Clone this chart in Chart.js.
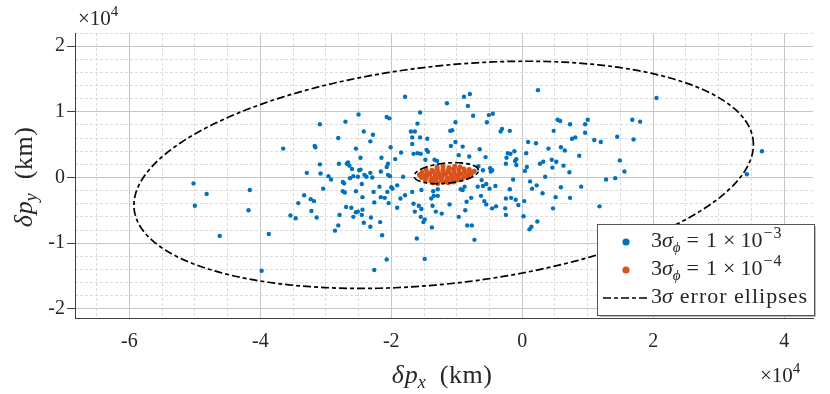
<!DOCTYPE html>
<html>
<head>
<meta charset="utf-8">
<script src="https://cdn.jsdelivr.net/npm/chart.js@4.4.1/dist/chart.umd.min.js"></script>
<style>
  html, body { margin: 0; padding: 0; background: #fff; }
  canvas { display: block; }
</style>
</head>
<body>
<canvas id="chart" width="830" height="394"></canvas>
<script>
// ---------- Axes (units of 1e4 km) ----------
const xRange = [-6.83, 4.44];
const yRange = [-2.14, 2.2];
const xTicks = [-6, -4, -2, 0, 2, 4];
const xMinorTicks = [-6.5, -5.5, -5, -4.5, -3.5, -3, -2.5, -1.5, -1, -0.5, 0.5, 1, 1.5, 2.5, 3, 3.5];
const yTicks = [-2, -1, 0, 1, 2];
const yMinorTicks = [-1.8, -1.6, -1.4, -1.2, -0.8, -0.6, -0.4, -0.2, 0.2, 0.4, 0.6, 0.8, 1.2, 1.4, 1.6, 1.8, 2.2];

// ---------- 3σφ = 1e-3 samples ----------
const blueX = [
  -5.02, -4.82, -5.00, -4.16, -4.18, -4.62, -3.87, -3.98,
  -3.65, -3.09, -2.70, -2.50, -2.42, -2.28, -2.32, -2.81, -3.17, -3.16, -2.54, -2.47, -3.09, -2.80, -2.68, -2.66,
  -2.64, -2.60, -2.49, -2.47, -3.29, -3.08, -2.96, -2.92, -2.63, -2.58, -2.51, -2.41, -2.38, -2.32, -2.29, -2.74,
  -2.72, -2.45, -3.04, -2.74, -2.71, -2.54, -2.27, -3.33, -3.23, -3.18, -3.42, -2.44, -2.26, -2.69, -2.61, -2.44,
  -2.54, -2.51, -3.22, -3.54, -3.46, -3.14, -2.79, -2.58, -2.45, -2.42, -2.31, -2.32, -2.81, -2.86, -2.26,
  -1.79, -0.89, -0.80, -0.83, -1.15, -0.75, -1.56, -2.07, -2.03, -1.60, -1.02, -1.70, -1.64, -1.10, -1.07, -1.68,
  -1.56, -1.45, -1.02, -0.91, -2.01, -1.68, -1.09, -1.85, -1.66, -1.60, -1.46, -1.44, -0.97, -0.81, -2.15, -1.94,
  -1.55, -1.48, -1.34, -1.30, -2.05, -2.07, -2.16, -2.05, -2.02, -1.82, -0.73, -2.18, -2.00, -1.98, -1.91, -2.06,
  -1.68, -1.54, -1.36, -1.29, -0.94, -0.88, -0.91, -2.16, -2.10, -1.79, -1.86, -1.39, -1.29, -1.35, -0.78, -2.04,
  -1.66, -1.58, -0.85, -1.11, -1.91, -1.54, -1.37, -1.64, -1.32, -1.23, -0.87, -1.55, -1.49, -1.51, -0.97, -2.17,
  -1.38, -0.84, -0.77, -2.14, -1.61, -0.73, -2.07, -1.49,
  0.24, -0.51, -0.45, -0.54, 0.54, 0.58, 0.73, -0.33, -0.31, -0.19, 0.48, 0.09, 0.21, 0.76, 0.81, -0.65,
  0.40, 0.59, 0.65, -0.22, -0.18, -0.12, 0.06, -0.56, -0.24, -0.09, -0.11, 0.45, 0.52, -0.25, -0.09, 0.32,
  0.27, 0.07, 0.46, 0.63, 0.72, 0.87, -0.67, -0.60, -0.49, -0.48, -0.46, 0.04, 0.35, -0.14, -0.62, 0.12,
  -0.68, -0.60, -0.55, -0.50, -0.41, 0.15, 0.22, -0.19, 0.59, -0.63, 0.31, 0.51, 0.73, -0.25, -0.17, -0.10,
  0.03, -0.58, -0.55, -0.06, -0.46, -0.40, -0.26, 0.47, -0.25, 0.02, 0.14, 0.11, 0.23,
  2.05, 1.00, 0.96, 0.96, 1.10, 1.20, 1.45, 1.68, 1.80, 1.70, 1.49, 1.56, 1.28, 1.42, 0.90, 1.18,
  3.66, 3.43,
];
const blueY = [
  -0.09, -0.25, -0.43, -0.19, -0.50, -0.89, -0.86, -1.42,
  0.44, 0.81, 0.85, 0.96, 0.70, 0.65, 0.55, 0.60, 0.48, 0.46, 0.44, 0.30, 0.20, 0.21, 0.21, 0.23,
  0.18, 0.13, 0.11, 0.12, 0.07, 0.06, 0.02, -0.03, -0.01, 0.02, 0.01, 0.04, 0.01, 0.07, 0.00, -0.07,
  -0.09, -0.10, -0.17, -0.21, -0.23, -0.21, -0.22, -0.27, -0.33, -0.36, -0.39, -0.30, -0.38, -0.45, -0.46, -0.49,
  -0.53, -0.52, -0.51, -0.58, -0.62, -0.61, -0.57, -0.60, -0.57, -0.69, -0.61, -0.75, -0.73, -0.81, -1.41,
  1.23, 1.23, 1.27, 1.09, 1.13, 0.94, 0.99, 0.92, 0.90, 0.82, 0.84, 0.70, 0.70, 0.71, 0.72, 0.61,
  0.61, 0.59, 0.54, 0.47, 0.46, 0.51, 0.48, 0.38, 0.36, 0.37, 0.42, 0.39, 0.34, 0.32, 0.30, 0.28,
  0.36, 0.27, 0.27, 0.25, 0.21, 0.16, 0.09, 0.04, 0.02, 0.01, 0.10, -0.14, -0.15, -0.17, -0.12, -0.22,
  -0.22, -0.19, -0.21, -0.18, -0.18, -0.14, -0.19, -0.30, -0.31, -0.27, -0.32, -0.32, -0.28, -0.28, -0.31, -0.39,
  -0.40, -0.43, -0.37, -0.41, -0.46, -0.48, -0.43, -0.52, -0.52, -0.55, -0.50, -0.60, -0.64, -0.68, -0.60, -0.68,
  -0.76, -0.73, -0.73, -0.88, -0.93, -0.95, -1.25, -1.24,
  1.33, 0.95, 0.97, 0.84, 0.88, 0.86, 0.81, 0.70, 0.74, 0.71, 0.71, 0.54, 0.52, 0.59, 0.61, 0.43,
  0.44, 0.46, 0.41, 0.37, 0.36, 0.40, 0.37, 0.31, 0.30, 0.28, 0.25, 0.27, 0.24, 0.21, 0.19, 0.24,
  0.21, 0.16, 0.15, 0.18, 0.08, 0.33, 0.17, 0.11, 0.14, 0.09, 0.11, 0.10, 0.01, -0.03, -0.04, -0.06,
  -0.14, -0.13, -0.10, -0.17, -0.13, -0.17, -0.12, -0.18, -0.15, -0.28, -0.24, -0.30, -0.31, -0.32, -0.31, -0.34,
  -0.36, -0.36, -0.41, -0.42, -0.47, -0.44, -0.47, -0.47, -0.57, -0.59, -0.75, -0.79, -0.67,
  1.21, 0.88, 0.81, 0.68, 0.57, 0.54, 0.62, 0.88, 0.85, 0.58, 0.26, 0.09, -0.03, -0.01, -0.14, -0.44,
  0.40, 0.05,
];

// ---------- 3σφ = 1e-4 samples ----------
const orangeX = [
  -1.30, -1.21, -1.12, -1.03, -0.95,
  -1.47, -1.38, -1.30, -1.21, -1.13, -1.05, -0.97, -0.89, -0.81,
  -1.53, -1.45, -1.36, -1.28, -1.20, -1.12, -1.04, -0.96, -0.88, -0.80, -0.74,
  -1.57, -1.49, -1.41, -1.33, -1.25, -1.17, -1.09, -1.01, -0.93, -0.85, -0.78,
  -1.54, -1.46, -1.38, -1.30, -1.22, -1.14, -1.06, -0.98, -0.90, -0.83,
  -1.48, -1.40, -1.32, -1.24, -1.16, -1.08, -1.00, -0.93,
  -1.37, -1.29, -1.21, -1.13, -1.05,
];
const orangeY = [
  0.16, 0.17, 0.15, 0.17, 0.16,
  0.12, 0.11, 0.13, 0.12, 0.11, 0.13, 0.12, 0.13, 0.12,
  0.08, 0.07, 0.09, 0.08, 0.07, 0.09, 0.08, 0.07, 0.09, 0.08, 0.09,
  0.04, 0.03, 0.05, 0.04, 0.03, 0.05, 0.04, 0.03, 0.05, 0.04, 0.05,
  0.00, 0.01, -0.01, 0.00, 0.01, -0.01, 0.00, 0.01, 0.00, 0.01,
  -0.04, -0.05, -0.03, -0.04, -0.05, -0.03, -0.04, -0.03,
  -0.08, -0.09, -0.07, -0.08, -0.07,
];

// ---------- 3σ error ellipses: [large, small] ----------
const ellipseCx = [-1.20, -1.16];
const ellipseCy = [0.04, 0.065];
const ellipseRx = [4.73, 0.49];
const ellipseRy = [1.73, 0.16];
const ellipseSkew = [0.27, 0.27];

const BLUE = "#0072BD";
const ORANGE = "#D95319";
const TXT = "#262626";
const SERIF = "'Liberation Serif', 'DejaVu Serif', serif";
const ELLIPSE_DASH = [8, 3, 4, 3];

const zip = (xs, ys) => xs.map((x, i) => ({ x, y: ys[i] }));

function ellipsePoints(k) {
  const pts = [];
  const n = 240;
  for (let i = 0; i <= n; i++) {
    const t = (i / n) * 2 * Math.PI;
    pts.push({
      x: ellipseCx[k] + ellipseRx[k] * Math.cos(t),
      y: ellipseCy[k] + ellipseRy[k] * Math.sin(t + ellipseSkew[k]),
    });
  }
  return pts;
}

// ---------- rich text helper ----------
// part: [text, size, italic, dy, letterSpacing] or a number (gap in px)
function drawRuns(ctx, parts, x, y, align) {
  const setFont = (p) => {
    ctx.font = `${p[2] ? "italic " : ""}${p[1]}px ${SERIF}`;
    ctx.letterSpacing = (p[4] || 0) + "px";
  };
  let w = 0;
  const widths = parts.map((p) => {
    if (typeof p === "number") { w += p; return p; }
    setFont(p);
    const pw = ctx.measureText(p[0]).width;
    w += pw;
    return pw;
  });
  let cx = align === "center" ? x - w / 2 : align === "right" ? x - w : x;
  parts.forEach((p, i) => {
    if (typeof p !== "number") {
      setFont(p);
      ctx.fillText(p[0], cx, y + (p[3] || 0));
    }
    cx += widths[i];
  });
  ctx.letterSpacing = "0px";
}

const annotations = {
  id: "annotations",
  afterDraw(chart) {
    const ctx = chart.ctx;
    ctx.save();
    ctx.fillStyle = TXT;
    ctx.textBaseline = "alphabetic";
    ctx.textAlign = "left";

    // axis titles
    const title = (sub) => [["δ", 26, true], 1, ["p", 26, true], ["" + sub, 18, true, 5], 14, ["(km)", 26, false, 0, 0.5]];
    drawRuns(ctx, title("x"), 442, 383, "center");
    ctx.save();
    ctx.translate(24, 177);
    ctx.rotate(-Math.PI / 2);
    drawRuns(ctx, title("y"), 0, 8, "center");
    ctx.restore();

    // exponent labels
    drawRuns(ctx, [["×10", 21, false], ["4", 15, false, -9]], 78, 25, "left");
    drawRuns(ctx, [["×10", 21, false], ["4", 15, false, -9]], 760, 382, "left");

    // legend
    const L = { x: 597.5, y: 224.5, w: 217, h: 91 };
    ctx.fillStyle = "#fff";
    ctx.fillRect(L.x, L.y, L.w, L.h);
    ctx.strokeStyle = "#b8b8b8";
    ctx.lineWidth = 1;
    ctx.beginPath();
    ctx.moveTo(L.x + L.w + 1, L.y + 2);
    ctx.lineTo(L.x + L.w + 1, L.y + L.h + 1);
    ctx.lineTo(L.x + 2, L.y + L.h + 1);
    ctx.stroke();
    ctx.strokeStyle = "#555";
    ctx.strokeRect(L.x, L.y, L.w, L.h);

    ctx.fillStyle = BLUE;
    ctx.beginPath(); ctx.arc(626, 242, 3.6, 0, 2 * Math.PI); ctx.fill();
    ctx.fillStyle = ORANGE;
    ctx.beginPath(); ctx.arc(626, 270, 3.6, 0, 2 * Math.PI); ctx.fill();
    ctx.strokeStyle = "#000";
    ctx.lineWidth = 1.7;
    ctx.setLineDash(ELLIPSE_DASH);
    ctx.beginPath(); ctx.moveTo(603, 298); ctx.lineTo(647, 298); ctx.stroke();
    ctx.setLineDash([]);

    ctx.fillStyle = TXT;
    const row = (exp) => [["3", 22, false], ["σ", 22, true], ["ϕ", 15, true, 5], 6, ["=", 22, false], 7,
      ["1", 22, false], 6, ["×", 22, false], 5, ["10", 22, false], 1, ["−" + exp, 16, false, -9, 1]];
    drawRuns(ctx, row("3"), 651, 247, "left");
    drawRuns(ctx, row("4"), 651, 275, "left");
    drawRuns(ctx, [["3", 22, false], ["σ", 22, true], 7, ["error ellipses", 22, false, 0, 1]], 651, 303, "left");
    ctx.restore();
  },
};

const tickFont = { family: SERIF, size: 20 };

new Chart(document.getElementById("chart"), {
  type: "scatter",
  data: {
    datasets: [
      { data: ellipsePoints(0), showLine: true, pointRadius: 0, borderColor: "#000", borderWidth: 1.7,
        borderDash: ELLIPSE_DASH, fill: false, order: 0 },
      { data: ellipsePoints(1), showLine: true, pointRadius: 0, borderColor: "#000", borderWidth: 1.7,
        borderDash: ELLIPSE_DASH, fill: false, order: 0 },
      { data: zip(orangeX, orangeY), pointRadius: 2.5, backgroundColor: ORANGE, borderWidth: 0, order: 1 },
      { data: zip(blueX, blueY), pointRadius: 2.2, backgroundColor: BLUE, borderWidth: 0, order: 2 },
    ],
  },
  options: {
    responsive: false,
    animation: false,
    devicePixelRatio: 1,
    layout: { padding: { top: 33, right: 17, left: 0, bottom: 0 } },
    plugins: { legend: { display: false }, tooltip: { enabled: false } },
    scales: {
      x: {
        type: "linear", min: xRange[0], max: xRange[1],
        afterBuildTicks: (s) => { s.ticks = xTicks.map((v) => ({ value: v })); },
        afterFit: (s) => { s.height = 76; },
        grid: { color: "#c6c6c6", lineWidth: 1, drawTicks: false },
        border: { color: "#404040", width: 1 },
        ticks: { font: tickFont, color: TXT, padding: 12, autoSkip: false, maxRotation: 0, callback: (v) => String(v) },
      },
      xMinor: {
        axis: "x", type: "linear", position: "top", min: xRange[0], max: xRange[1],
        afterBuildTicks: (s) => { s.ticks = xMinorTicks.map((v) => ({ value: v })); },
        afterFit: (s) => { s.height = 0; },
        grid: { color: "#dcdcdc", lineWidth: 1, drawTicks: false },
        border: { display: false, dash: [3, 2] },
        ticks: { display: false },
      },
      y: {
        type: "linear", min: yRange[0], max: yRange[1],
        afterBuildTicks: (s) => { s.ticks = yTicks.map((v) => ({ value: v })); },
        afterFit: (s) => { s.width = 75; },
        grid: { color: "#c6c6c6", lineWidth: 1, drawTicks: true, tickLength: 8, tickColor: "#404040" },
        border: { color: "#404040", width: 1 },
        ticks: { font: tickFont, color: TXT, padding: 2, autoSkip: false, callback: (v) => String(v) },
      },
      yMinor: {
        axis: "y", type: "linear", position: "right", min: yRange[0], max: yRange[1],
        afterBuildTicks: (s) => { s.ticks = yMinorTicks.map((v) => ({ value: v })); },
        afterFit: (s) => { s.width = 0; },
        grid: { color: "#dcdcdc", lineWidth: 1, drawTicks: false },
        border: { display: false, dash: [3, 2] },
        ticks: { display: false },
      },
    },
  },
  plugins: [annotations],
});
</script>
</body>
</html>
